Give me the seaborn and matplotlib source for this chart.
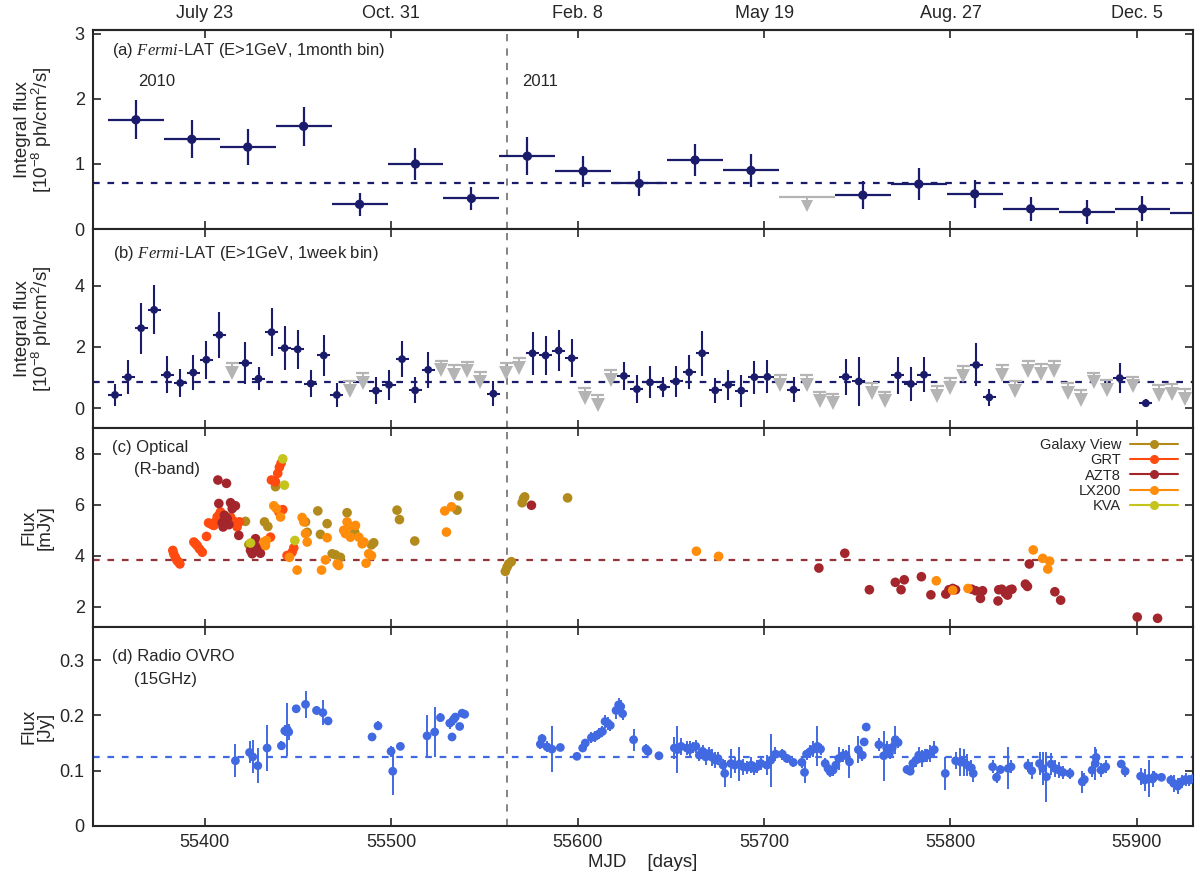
import numpy as np
import pandas as pd
import seaborn as sns
import matplotlib.pyplot as plt
from matplotlib.lines import Line2D

# (a) Fermi-LAT, 1 month bins
month_mjd = [55363, 55393, 55423, 55453, 55483, 55513, 55543, 55573, 55603, 55633,
             55663, 55693, 55753, 55783, 55813, 55843, 55873, 55903, 55933]
month_flux = [1.68, 1.38, 1.26, 1.58, 0.38, 1.00, 0.47, 1.12, 0.89, 0.70,
              1.06, 0.90, 0.52, 0.69, 0.54, 0.31, 0.26, 0.31, 0.25]
month_err = [0.30, 0.29, 0.28, 0.30, 0.18, 0.25, 0.18, 0.29, 0.24, 0.19,
             0.25, 0.25, 0.22, 0.25, 0.21, 0.18, 0.18, 0.19, 0.18]
month_ul_mjd = [55723]
month_ul = [0.485]
month_mean = 0.70

# (b) Fermi-LAT, 1 week bins
week_mjd = [55351.8, 55358.8, 55365.8, 55372.8, 55379.8, 55386.8, 55393.8, 55400.8, 55407.8,
            55421.8, 55428.8, 55435.8, 55442.8, 55449.8, 55456.8, 55463.8, 55470.8,
            55491.8, 55498.8, 55505.8, 55512.8, 55519.8, 55554.8,
            55575.8, 55582.8, 55589.8, 55596.8,
            55624.8, 55631.8, 55638.8, 55645.8, 55652.8, 55659.8, 55666.8, 55673.8, 55680.8,
            55687.8, 55694.8, 55701.8, 55715.8, 55743.8, 55750.8, 55771.8, 55778.8, 55785.8,
            55813.8, 55820.8, 55890.8, 55904.8]
week_flux = [0.43, 1.01, 2.61, 3.21, 1.09, 0.82, 1.16, 1.58, 2.39,
             1.47, 0.96, 2.48, 1.96, 1.92, 0.80, 1.72, 0.43,
             0.57, 0.76, 1.60, 0.58, 1.25, 0.47,
             1.79, 1.72, 1.88, 1.63,
             1.05, 0.62, 0.84, 0.68, 0.87, 1.17, 1.79, 0.58, 0.76,
             0.57, 1.01, 1.02, 0.60, 1.02, 0.87, 1.07, 0.79, 1.09,
             1.41, 0.35, 0.98, 0.16]
week_err = [0.37, 0.56, 0.83, 0.80, 0.61, 0.47, 0.56, 0.62, 0.75,
            0.68, 0.38, 0.78, 0.73, 0.64, 0.45, 0.67, 0.40,
            0.44, 0.48, 0.60, 0.43, 0.58, 0.41,
            0.70, 0.65, 0.68, 0.62,
            0.45, 0.46, 0.52, 0.32, 0.52, 0.56, 0.74, 0.41, 0.49,
            0.52, 0.54, 0.54, 0.41, 0.58, 0.80, 0.60, 0.55, 0.57,
            0.70, 0.28, 0.49, 0.13]
week_ul_mjd = [55414.8, 55477.8, 55484.8, 55526.8, 55533.8, 55540.8, 55547.8, 55561.8, 55568.8,
               55603.8, 55610.8, 55617.8, 55708.8, 55722.8, 55729.8, 55736.8, 55757.8, 55764.8,
               55792.8, 55799.8, 55806.8, 55827.8, 55834.8, 55841.8, 55848.8, 55855.8, 55862.8,
               55869.8, 55876.8, 55883.8, 55897.8, 55911.8, 55918.8, 55925.8]
week_ul = [1.47, 0.87, 1.14, 1.55, 1.41, 1.52, 1.17, 1.47, 1.63,
           0.65, 0.43, 1.23, 1.09, 1.07, 0.54, 0.47, 0.82, 0.54,
           0.71, 0.98, 1.36, 1.41, 0.87, 1.54, 1.43, 1.54, 0.82,
           0.60, 1.16, 0.92, 1.03, 0.76, 0.79, 0.62]
week_mean = 0.85

# (c) Optical R-band
gv_mjd = [55421.8, 55423.6, 55432.0, 55433.8, 55437.9, 55454.0, 55454.9, 55460.6, 55462.0, 55465.6,
          55468.3, 55470.0, 55472.7, 55476.3, 55480.4, 55489.4, 55490.6, 55503.1, 55504.4, 55512.6,
          55535.3, 55536.2, 55561.2, 55562.1, 55563.0, 55564.4, 55570.2, 55571.0, 55571.6, 55594.6]
gv_flux = [5.34, 4.43, 5.32, 5.14, 6.70, 5.32, 4.91, 5.75, 4.83, 5.25,
           4.07, 4.03, 3.93, 5.68, 4.92, 4.42, 4.50, 5.78, 5.41, 4.57,
           5.78, 6.34, 3.38, 3.54, 3.67, 3.76, 6.07, 6.24, 6.30, 6.26]
grt_mjd = [55382.8, 55383.3, 55384.2, 55385.1, 55386.0, 55386.6, 55394.1, 55395.0, 55395.9, 55397.1,
           55398.6, 55400.9, 55402.0, 55403.6, 55404.8, 55405.7, 55406.6, 55407.5, 55408.4, 55410.2,
           55412.0, 55413.8, 55415.6, 55417.3, 55418.6, 55435.2, 55435.7, 55437.9, 55439.1, 55440.0,
           55440.9, 55439.7, 55441.8, 55444.1, 55446.8, 55447.7]
grt_flux = [4.20, 4.07, 3.93, 3.80, 3.74, 3.67, 4.53, 4.46, 4.39, 4.26,
            4.13, 4.75, 5.28, 5.22, 5.18, 5.32, 5.51, 5.58, 5.71, 5.25,
            5.45, 5.51, 5.34, 5.12, 5.32, 4.72, 6.96, 6.89, 7.22, 7.46,
            7.62, 5.71, 5.80, 4.00, 4.13, 4.30]
azt_mjd = [55407.0, 55411.6, 55407.5, 55413.8, 55416.4, 55409.3, 55410.5, 55412.0, 55412.9, 55414.7,
           55418.2, 55409.8, 55424.5, 55425.4, 55427.2, 55428.4, 55429.8, 55575.2, 55729.4, 55743.3,
           55756.5, 55770.4, 55773.5, 55775.2, 55784.4, 55789.5, 55797.5, 55799.2, 55801.2, 55802.7,
           55811.4, 55813.5, 55816.1, 55817.2, 55825.5, 55825.9, 55827.5, 55829.4, 55830.6, 55832.0,
           55833.0, 55840.2, 55841.3, 55842.3, 55856.0, 55859.1, 55900.2, 55911.1]
azt_flux = [6.96, 6.83, 6.04, 6.07, 5.95, 5.29, 5.58, 5.45, 5.21, 5.84,
            4.79, 5.12, 4.20, 4.07, 4.66, 4.33, 4.09, 5.97, 3.51, 4.09,
            2.66, 2.95, 2.66, 3.05, 3.17, 2.46, 2.49, 2.66, 2.71, 2.66,
            2.68, 2.62, 2.32, 2.62, 2.22, 2.66, 2.68, 2.53, 2.45, 2.66,
            2.68, 2.88, 2.79, 3.67, 2.58, 2.25, 1.59, 1.54]
lx_mjd = [55431.6, 55432.5, 55433.0, 55437.0, 55438.4, 55440.6, 55445.4, 55449.5, 55452.2, 55453.1,
          55454.0, 55454.9, 55462.6, 55464.7, 55465.6, 55471.0, 55471.8, 55474.5, 55475.4, 55476.3,
          55477.2, 55478.1, 55480.8, 55482.6, 55484.4, 55485.3, 55486.5, 55487.9, 55489.4, 55528.7,
          55529.6, 55532.3, 55663.7, 55675.6, 55792.4, 55801.2, 55809.4, 55844.4, 55849.5, 55852.2,
          55853.2]
lx_flux = [4.53, 4.39, 4.59, 5.95, 5.84, 5.51, 3.93, 3.43, 5.49, 5.32,
           4.86, 4.53, 3.43, 3.83, 4.70, 3.67, 3.61, 4.99, 4.86, 5.32,
           5.14, 4.72, 5.18, 4.72, 4.46, 4.53, 3.70, 4.07, 4.00, 5.75,
           4.92, 5.91, 4.17, 3.97, 3.01, 2.64, 2.71, 4.22, 3.89, 3.47,
           3.78]
kva_mjd = [55424.5, 55441.8, 55442.7, 55448.3]
kva_flux = [4.49, 7.79, 6.76, 4.59]
optical_mean = 3.84

instruments = ['Galaxy View', 'GRT', 'AZT8', 'LX200', 'KVA']
inst_colors = ['#b38a1c', '#ff4a10', '#a3262c', '#ff8c0a', '#c4c41c']

# (d) Radio OVRO 15 GHz
radio_mjd = [55416.4, 55424.0, 55425.7, 55428.4, 55433.4, 55441.1, 55442.9, 55444.1, 55445.0, 55449.0,
             55454.0, 55459.9, 55463.3, 55466.1,
             55489.7, 55492.9, 55499.9, 55500.8, 55504.9, 55519.2, 55523.3, 55526.4, 55531.4, 55532.6,
             55533.5, 55534.4, 55536.7, 55538.0, 55539.4,
             55580.0, 55580.9, 55583.6, 55586.2, 55590.7, 55599.6, 55602.7, 55604.1,
             55607.4, 55609.4, 55611.6, 55613.3, 55614.7, 55616.2, 55617.5, 55620.6, 55622.0, 55623.1,
             55624.1,
             55630.0, 55636.7, 55637.7, 55643.6,
             55651.9, 55653.4, 55655.5, 55658.6, 55660.1, 55661.8, 55663.4,
             55665.3, 55667.0, 55668.7, 55670.5, 55672.2, 55673.9, 55675.3, 55678.0, 55678.9,
             55682.2, 55684.3, 55686.8, 55688.9, 55691.0, 55693.1, 55694.8, 55696.2, 55698.3, 55701.5,
             55703.6, 55706.1,
             55709.8, 55712.3, 55715.7, 55720.3, 55721.7,
             55722.8, 55724.9, 55726.5, 55728.6, 55730.3,
             55732.8, 55734.3, 55735.5, 55737.0, 55738.5, 55740.1, 55742.2, 55743.9, 55745.8,
             55750.6, 55752.7, 55753.7, 55754.8,
             55761.6, 55764.2, 55765.8, 55767.3, 55768.8, 55770.4, 55771.9,
             55776.7, 55778.4, 55779.8, 55781.5, 55783.0, 55784.6, 55786.1, 55787.6, 55789.2, 55791.3,
             55797.2,
             55802.8, 55805.3, 55807.0, 55809.1, 55811.2, 55812.2,
             55822.6, 55824.7, 55826.8, 55831.0, 55832.5,
             55841.5, 55843.6, 55847.8, 55849.5, 55851.5, 55854.0, 55856.1, 55858.2, 55860.3, 55864.1,
             55870.7, 55871.8,
             55876.0, 55877.7, 55878.1, 55880.8, 55883.3,
             55891.6, 55893.7,
             55902.0, 55904.2, 55906.3, 55908.4, 55909.4, 55913.2,
             55918.2, 55919.8, 55921.9, 55924.0, 55926.1, 55928.2, 55930.3]
radio_flux = [0.118, 0.133, 0.125, 0.109, 0.141, 0.145, 0.172, 0.175, 0.170, 0.212,
              0.220, 0.209, 0.205, 0.190,
              0.161, 0.181, 0.135, 0.099, 0.144, 0.163, 0.170, 0.196, 0.186, 0.161,
              0.193, 0.197, 0.180, 0.204, 0.202,
              0.148, 0.158, 0.143, 0.139, 0.142, 0.126, 0.141, 0.150,
              0.160, 0.162, 0.167, 0.171, 0.189, 0.186, 0.182, 0.209, 0.219, 0.216,
              0.203,
              0.156, 0.139, 0.135, 0.127,
              0.141, 0.138, 0.144, 0.141, 0.138, 0.142, 0.144,
              0.128, 0.135, 0.125, 0.131, 0.124, 0.119, 0.122, 0.110, 0.095,
              0.113, 0.110, 0.112, 0.107, 0.106, 0.110, 0.104, 0.107, 0.113, 0.110,
              0.119, 0.130,
              0.130, 0.122, 0.115, 0.115, 0.097,
              0.130, 0.135, 0.139, 0.144, 0.139,
              0.113, 0.104, 0.098, 0.101, 0.110, 0.122, 0.127, 0.128, 0.116,
              0.138, 0.128, 0.152, 0.179,
              0.147, 0.127, 0.141, 0.132, 0.142, 0.156, 0.151,
              0.102, 0.099, 0.113, 0.119, 0.128, 0.122, 0.128, 0.128, 0.131, 0.138,
              0.095,
              0.118, 0.116, 0.115, 0.110, 0.105, 0.095,
              0.107, 0.088, 0.102, 0.104, 0.107,
              0.109, 0.100, 0.113, 0.104, 0.089, 0.112, 0.104, 0.101, 0.097, 0.095,
              0.080, 0.084,
              0.101, 0.113, 0.124, 0.101, 0.107,
              0.112, 0.099,
              0.090, 0.083, 0.086, 0.085, 0.089, 0.088,
              0.083, 0.077, 0.072, 0.080, 0.084, 0.083, 0.086]
radio_err = [0.030, 0.020, 0.030, 0.032, 0.041, 0.008, 0.010, 0.048, 0.015, 0.006,
             0.024, 0.008, 0.022, 0.006,
             0.006, 0.008, 0.010, 0.043, 0.006, 0.038, 0.045, 0.008, 0.010, 0.006,
             0.010, 0.008, 0.006, 0.006, 0.006,
             0.008, 0.008, 0.010, 0.042, 0.006, 0.006, 0.008, 0.008,
             0.010, 0.010, 0.010, 0.010, 0.012, 0.012, 0.010, 0.015, 0.012, 0.012,
             0.012,
             0.020, 0.010, 0.008, 0.006,
             0.020, 0.043, 0.015, 0.012, 0.015, 0.010, 0.012,
             0.010, 0.012, 0.015, 0.012, 0.015, 0.015, 0.012, 0.012, 0.025,
             0.027, 0.015, 0.030, 0.015, 0.012, 0.015, 0.012, 0.012, 0.012, 0.018,
             0.048, 0.012,
             0.010, 0.008, 0.008, 0.010, 0.020,
             0.010, 0.012, 0.015, 0.036, 0.010,
             0.010, 0.012, 0.010, 0.010, 0.012, 0.020, 0.012, 0.010, 0.030,
             0.025, 0.010, 0.008, 0.008,
             0.012, 0.045, 0.012, 0.010, 0.010, 0.025, 0.010,
             0.008, 0.006, 0.010, 0.012, 0.015, 0.015, 0.012, 0.012, 0.015, 0.015,
             0.030,
             0.015, 0.025, 0.025, 0.020, 0.015, 0.015,
             0.012, 0.010, 0.008, 0.038, 0.012,
             0.012, 0.015, 0.020, 0.030, 0.045, 0.020, 0.015, 0.015, 0.012, 0.010,
             0.020, 0.012,
             0.012, 0.030, 0.015, 0.012, 0.012,
             0.008, 0.010,
             0.015, 0.020, 0.033, 0.015, 0.010, 0.006,
             0.010, 0.015, 0.015, 0.012, 0.012, 0.010, 0.010]
radio_mean = 0.125

year_edge = 55562
date_ticks = [55400, 55500, 55600, 55700, 55800, 55900]
date_labels = ['July 23', 'Oct. 31', 'Feb. 8', 'May 19', 'Aug. 27', 'Dec. 5']

navy = '#1b1b6b'
gray_ul = '#b4b4b4'
radio_color = '#4169e1'
opt_mean_color = '#943438'

sns.set_theme(style='ticks')
plt.rcParams['font.family'] = ['Liberation Sans', 'DejaVu Sans']
plt.rcParams['mathtext.fontset'] = 'custom'
plt.rcParams['mathtext.rm'] = 'Liberation Sans'
plt.rcParams['mathtext.it'] = 'Liberation Serif:italic'
plt.rcParams['axes.linewidth'] = 1.5

fig, axes = plt.subplots(4, 1, figsize=(12, 8.83), dpi=100, sharex=True)
fig.subplots_adjust(left=0.0775, right=0.994, top=0.966, bottom=0.0646, hspace=0)
ax_a, ax_b, ax_c, ax_d = axes

for ax in axes:
    ax.axvline(year_edge, color='#7a7a7a', lw=1.3, dashes=(4, 4), zorder=1)
    ax.tick_params(direction='in', top=True, right=True, length=6, width=1.2,
                   labelsize=13, pad=6)
    ax.set_xlim(55340, 55930)

# ---- panel (a)
ax_a.axhline(month_mean, color=navy, lw=1.6, dashes=(3, 3.5), zorder=1)
ax_a.errorbar(month_mjd, month_flux, xerr=15, yerr=month_err, fmt='none',
              ecolor=navy, elinewidth=1.6, capsize=0, zorder=2)
sns.scatterplot(x=month_mjd, y=month_flux, ax=ax_a, color=navy, s=45,
                edgecolor='none', zorder=3, legend=False)
ax_a.errorbar(month_ul_mjd, month_ul, xerr=15, fmt='none', ecolor=gray_ul,
              elinewidth=1.6, capsize=0, zorder=2)
ax_a.vlines(month_ul_mjd, [v - 0.07 for v in month_ul], month_ul, color=gray_ul, lw=1.4)
ax_a.plot(month_ul_mjd, [v - 0.13 for v in month_ul], 'v', color=gray_ul, ms=9, mew=0)
ax_a.set_ylim(0, 3.06)
ax_a.set_yticks([0, 1, 2, 3])
ax_a.tick_params(top=False)
ax_a.text(0.0175, 0.898, r'(a) $\mathit{Fermi}$-LAT (E>1GeV, 1month bin)',
          transform=ax_a.transAxes, fontsize=12, va='center')
ax_a.text(55364, 2.27, '2010', fontsize=12, va='center')
ax_a.text(55570, 2.27, '2011', fontsize=12, va='center')
ax_a.set_ylabel('Integral flux\n[$\\mathregular{10^{-8}}$ ph/cm$\\mathregular{^2}$/s]',
                fontsize=13.5, linespacing=0.95)

sec = ax_a.secondary_xaxis('top')
sec.set_xticks(date_ticks, labels=date_labels)
sec.tick_params(direction='in', length=6, width=1.2, labelsize=13, pad=6)

# ---- panel (b)
ax_b.axhline(week_mean, color=navy, lw=1.6, dashes=(3, 3.5), zorder=1)
ax_b.errorbar(week_mjd, week_flux, xerr=3.5, yerr=week_err, fmt='none',
              ecolor=navy, elinewidth=1.5, capsize=0, zorder=2)
sns.scatterplot(x=week_mjd, y=week_flux, ax=ax_b, color=navy, s=32,
                edgecolor='none', zorder=3, legend=False)
ax_b.errorbar(week_ul_mjd, week_ul, xerr=3.5, fmt='none', ecolor=gray_ul,
              elinewidth=1.6, capsize=0, zorder=2)
ax_b.vlines(week_ul_mjd, [v - 0.18 for v in week_ul], week_ul, color=gray_ul, lw=1.4, zorder=2)
ax_b.plot(week_ul_mjd, [v - 0.32 for v in week_ul], 'v', color=gray_ul, ms=9.5, mew=0, zorder=2)
ax_b.set_ylim(-0.65, 5.85)
ax_b.set_yticks([0, 2, 4])
ax_b.text(0.018, 0.877, r'(b) $\mathit{Fermi}$-LAT (E>1GeV, 1week bin)',
          transform=ax_b.transAxes, fontsize=12, va='center')
ax_b.set_ylabel('Integral flux\n[$\\mathregular{10^{-8}}$ ph/cm$\\mathregular{^2}$/s]',
                fontsize=13.5, linespacing=0.95)

# ---- panel (c)
opt = pd.concat([
    pd.DataFrame({'mjd': gv_mjd, 'flux': gv_flux, 'inst': 'Galaxy View'}),
    pd.DataFrame({'mjd': grt_mjd, 'flux': grt_flux, 'inst': 'GRT'}),
    pd.DataFrame({'mjd': azt_mjd, 'flux': azt_flux, 'inst': 'AZT8'}),
    pd.DataFrame({'mjd': lx_mjd, 'flux': lx_flux, 'inst': 'LX200'}),
    pd.DataFrame({'mjd': kva_mjd, 'flux': kva_flux, 'inst': 'KVA'}),
], ignore_index=True)
palette = dict(zip(instruments, inst_colors))

ax_c.axhline(optical_mean, color=opt_mean_color, lw=1.6, dashes=(3, 3.5), zorder=1)
for name, col in palette.items():
    sub = opt[opt['inst'] == name]
    ax_c.errorbar(sub['mjd'], sub['flux'], yerr=0.12, fmt='none', ecolor=col,
                  elinewidth=1.2, capsize=0, zorder=2)
sns.scatterplot(data=opt, x='mjd', y='flux', hue='inst', hue_order=instruments,
                palette=palette, ax=ax_c, s=48, edgecolor='none', zorder=3, legend=False)
ax_c.set_ylim(1.2, 9.0)
ax_c.set_yticks([2, 4, 6, 8])
ax_c.text(0.017, 0.90, '(c) Optical', transform=ax_c.transAxes, fontsize=12, va='center')
ax_c.text(0.037, 0.79, '(R-band)', transform=ax_c.transAxes, fontsize=12, va='center')
ax_c.set_ylabel('Flux\n[mJy]', fontsize=13.5, linespacing=0.95)
handles = [Line2D([0], [0], color=c, lw=1.5, marker='o', ms=5.5) for c in inst_colors]
ax_c.legend(handles, instruments, loc='upper right', frameon=False, markerfirst=False,
            fontsize=10.5, handlelength=3.3, labelspacing=0.08, borderaxespad=0.3,
            handletextpad=0.6, bbox_to_anchor=(0.996, 1.0))

# ---- panel (d)
ax_d.axhline(radio_mean, color=radio_color, lw=1.6, dashes=(3, 3.5), zorder=1)
ax_d.errorbar(radio_mjd, radio_flux, yerr=radio_err, fmt='none', ecolor=radio_color,
              elinewidth=1.4, capsize=0, zorder=2)
sns.scatterplot(x=radio_mjd, y=radio_flux, ax=ax_d, color=radio_color, s=40,
                edgecolor='none', zorder=3, legend=False)
ax_d.set_ylim(0, 0.36)
ax_d.set_yticks([0, 0.1, 0.2, 0.3], labels=['0', '0.1', '0.2', '0.3'])
ax_d.text(0.017, 0.852, '(d) Radio OVRO', transform=ax_d.transAxes, fontsize=12, va='center')
ax_d.text(0.037, 0.735, '(15GHz)', transform=ax_d.transAxes, fontsize=12, va='center')
ax_d.set_ylabel('Flux\n[Jy]', fontsize=13.5, linespacing=0.95)
ax_d.set_xticks(date_ticks)
ax_d.set_xlabel('MJD    [days]', fontsize=13.5, labelpad=2)

fig.align_ylabels(axes)
fig.savefig('out.png', dpi=100)
